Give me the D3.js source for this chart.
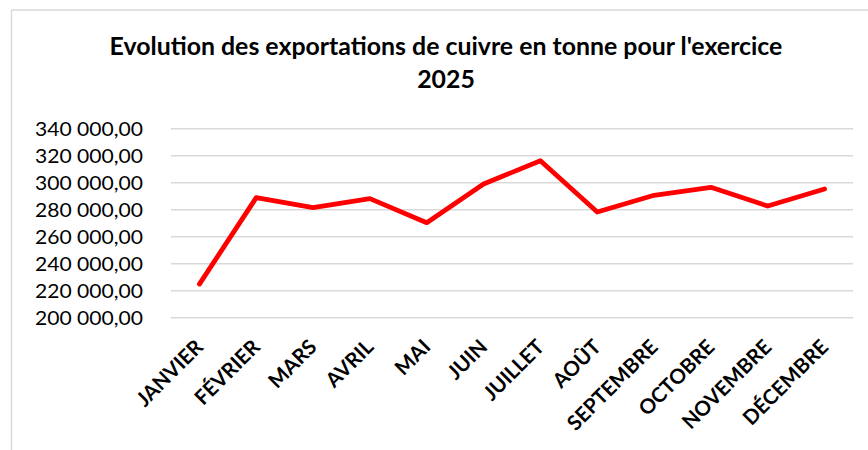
<!DOCTYPE html>
<html><head><meta charset="utf-8">
<script src="https://cdn.jsdelivr.net/npm/d3@7"></script>
<style>
html,body{margin:0;padding:0;background:#fff;}
svg{display:block;font-family:Lato,"Open Sans",sans-serif;}
</style></head>
<body><svg id="c" width="868" height="450"></svg>
<script>
const months = ["JANVIER","FÉVRIER","MARS","AVRIL","MAI","JUIN","JUILLET","AOÛT","SEPTEMBRE","OCTOBRE","NOVEMBRE","DÉCEMBRE"];
const exportsTonnes = [224600,288600,281200,287900,270100,298700,316000,278000,290400,296300,282400,295000];
const yTicks = [200000,220000,240000,260000,280000,300000,320000,340000];
const titleLines = ["Evolution des exportations de cuivre en tonne pour l'exercice","2025"];

const svg = d3.select("#c");
const fr = d3.formatLocale({decimal:",", thousands:" ", grouping:[3], currency:["","€"]});
const fmt = fr.format(",.2f");

const x = d3.scaleBand().domain(months).range([171, 853]).padding(0);
const y = d3.scaleLinear().domain([200000, 340000]).range([317.3, 128.3]);

function fit(sel, target){
  const n = sel.node();
  const fs = parseFloat(sel.attr("font-size"));
  const w = n.getComputedTextLength();
  sel.attr("font-size", fs * target / w);
}

// chart border (partially visible)
svg.append("line").attr("x1",11.5).attr("x2",868).attr("y1",10).attr("y2",10)
  .attr("stroke","#d9d9d9").attr("stroke-width",1.5);
svg.append("line").attr("x1",11.5).attr("x2",11.5).attr("y1",10).attr("y2",450)
  .attr("stroke","#d9d9d9").attr("stroke-width",1.5);

// title
const t1 = svg.append("text").attr("x",446).attr("y",55).attr("text-anchor","middle")
  .attr("font-weight","bold").attr("font-size",22).attr("fill","#000").text(titleLines[0]);
fit(t1, 673);
svg.append("text").attr("x",446).attr("y",88).attr("text-anchor","middle")
  .attr("font-weight","bold").attr("font-size",t1.attr("font-size")).attr("fill","#000").text(titleLines[1]);

// gridlines + y labels
const yAxis = d3.axisLeft(y).tickValues(yTicks).tickSize(-(853-171)).tickFormat(fmt).tickPadding(28);
const gy = svg.append("g").attr("transform","translate(171,0)").call(yAxis);
gy.select(".domain").remove();
gy.selectAll(".tick line").attr("stroke","#d9d9d9").attr("stroke-width",1.5);
gy.selectAll(".tick text").attr("font-size",19.5).attr("fill","#000")
  .attr("font-family","Lato, 'Open Sans', sans-serif").attr("dy","0.36em")
  .attr("textLength",108).attr("lengthAdjust","spacingAndGlyphs");

// x axis labels
const xAxis = d3.axisBottom(x).tickSize(0).tickPadding(0);
const gx = svg.append("g").attr("transform","translate(0,317.3)").call(xAxis);
gx.select(".domain").remove();
gx.selectAll(".tick text")
  .attr("font-size",17).attr("font-weight","bold").attr("fill","#000")
  .attr("font-family","Lato, 'Open Sans', sans-serif")
  .attr("text-anchor","end").attr("dy",null).attr("y",0)
  .attr("transform","translate(5,31) rotate(-45)");
{
  const s = gx.selectAll(".tick text").filter(d => d === "SEPTEMBRE");
  const w = s.node().getComputedTextLength();
  gx.selectAll(".tick text").attr("font-size", 17 * 118 / w);
}

// line
const line = d3.line().x((d,i) => x(months[i]) + x.bandwidth()/2).y(d => y(d));
svg.append("path").datum(exportsTonnes).attr("d", line)
  .attr("fill","none").attr("stroke","#ff0000").attr("stroke-width",4.8)
  .attr("stroke-linejoin","round").attr("stroke-linecap","round");
</script></body></html>
